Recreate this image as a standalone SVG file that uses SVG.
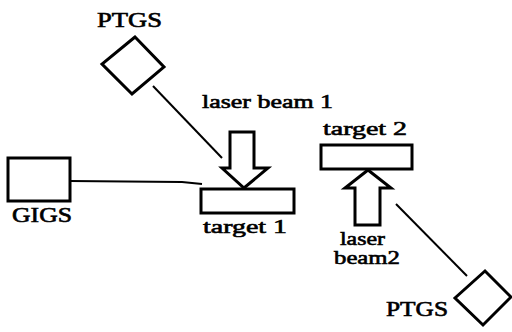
<svg xmlns="http://www.w3.org/2000/svg" width="512" height="332" viewBox="0 0 512 332">
<style>
.s{fill:#fff;stroke:#000;stroke-width:3;stroke-linejoin:miter}
.c{fill:none;stroke:#000;stroke-width:2}
.t{font-family:"Liberation Serif","Times New Roman",serif;fill:#000;stroke:#000;stroke-width:0.6}
.cap{font-size:20px}
.lo{font-size:19px}
</style>
<rect width="512" height="332" fill="#fff"/>
<g id="connectors">
<line class="c" x1="153" y1="86" x2="222" y2="158"/>
<polyline class="c" points="70,181 182,182 202,184"/>
<line class="c" x1="396" y1="204" x2="467" y2="276"/>
</g>
<g id="ptgs1">
<polygon class="s" points="135,37 102,64 132,94 164,67"/>
<text class="t cap" x="97" y="27" textLength="65" lengthAdjust="spacingAndGlyphs">PTGS</text>
</g>
<g id="gigs">
<rect class="s" x="8" y="158" width="62" height="43"/>
<text class="t cap" x="12" y="222" textLength="60" lengthAdjust="spacingAndGlyphs">GIGS</text>
</g>
<g id="laser-beam-1">
<polygon class="s" points="230,132 254,132 254,168 268,168 244,188 222,168 230,168"/>
<text class="t lo" x="202" y="108" textLength="131" lengthAdjust="spacingAndGlyphs">laser beam 1</text>
</g>
<g id="target1">
<rect class="s" x="201" y="189" width="93" height="24"/>
<text class="t lo" x="203" y="233" textLength="84" lengthAdjust="spacingAndGlyphs">target 1</text>
</g>
<g id="target2">
<rect class="s" x="321" y="145" width="91" height="24"/>
<text class="t lo" x="323" y="135" textLength="84" lengthAdjust="spacingAndGlyphs">target 2</text>
</g>
<g id="laser-beam-2">
<polygon class="s" points="368,170 391,188 380,188 380,225 355,225 355,188 345,188"/>
<text class="t lo" x="340" y="245" textLength="45" lengthAdjust="spacingAndGlyphs">laser</text>
<text class="t lo" x="334" y="264" textLength="66" lengthAdjust="spacingAndGlyphs">beam2</text>
</g>
<g id="ptgs2">
<polygon class="s" points="485,271 455,298 483,325 511,297"/>
<text class="t cap" x="386" y="316" textLength="62" lengthAdjust="spacingAndGlyphs">PTGS</text>
</g>
</svg>
